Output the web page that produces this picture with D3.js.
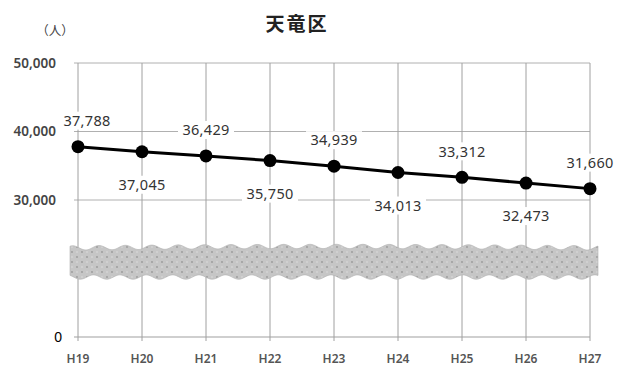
<!DOCTYPE html>
<html><head><meta charset="utf-8">
<script src="https://cdn.jsdelivr.net/npm/d3@7"></script>
<style>
html,body{margin:0;padding:0;background:#fff;}
svg{display:block;}
</style></head>
<body>
<svg id="c" width="617" height="367"></svg>
<script>
const categories = ["H19","H20","H21","H22","H23","H24","H25","H26","H27"];
const population = [37788,37045,36429,35750,34939,34013,33312,32473,31660];
const yTickValues = [0, 30000, 40000, 50000];
const yTickLabels = ["0", "30,000", "40,000", "50,000"];
const yGridValues = [20000, 30000, 40000, 50000];
const breakRange = [17500, 23000];
const title = "天竜区";
const unitLabel = "（人）";

const svg = d3.select("#c");
const x = d3.scalePoint().domain(categories).range([78, 590]);
// broken axis: 0–20,000 compressed
const y = d3.scaleLinear().domain([0, 20000, 50000]).range([337, 268.5, 63]);
const fmt = d3.format(",");

// pattern for break band
const defs = svg.append("defs");
const pat = defs.append("pattern").attr("id","tex").attr("patternUnits","userSpaceOnUse")
  .attr("width",10).attr("height",10);
pat.append("rect").attr("width",10).attr("height",10).attr("fill","#c6c6c6");
pat.append("circle").attr("cx",2).attr("cy",2).attr("r",0.9).attr("fill","#9a9a9a");
pat.append("circle").attr("cx",7).attr("cy",7).attr("r",0.9).attr("fill","#9a9a9a");
pat.append("circle").attr("cx",7).attr("cy",2).attr("r",0.7).attr("fill","#e2e2e2");
pat.append("circle").attr("cx",2).attr("cy",7).attr("r",0.7).attr("fill","#e2e2e2");

// horizontal gridlines
svg.append("g").selectAll("line").data(yGridValues).join("line")
  .attr("x1", 74).attr("x2", x.range()[1])
  .attr("y1", d => y(d)).attr("y2", d => y(d))
  .attr("stroke", "#b0b0b0").attr("stroke-width", 1);
// bottom axis line
svg.append("line").attr("x1", 74).attr("x2", x.range()[1])
  .attr("y1", y(0)).attr("y2", y(0)).attr("stroke", "#a0a0a0").attr("stroke-width", 1.2);
// vertical gridlines
svg.append("g").selectAll("line").data(categories).join("line")
  .attr("x1", d => x(d)).attr("x2", d => x(d))
  .attr("y1", y(50000)).attr("y2", y(0) + 4)
  .attr("stroke", "#a0a0a0").attr("stroke-width", 1);

// break band
const bx0 = 70, bx1 = 598;
const topY = y(breakRange[1]), botY = y(breakRange[0]);
const xs = d3.range(bx0, bx1 + 1, 2);
const topPts = xs.map(v => [v, topY + 2.2 * Math.sin(v / 4.2) - 1.5 * Math.sin((v - bx0) / (bx1 - bx0) * Math.PI)]);
const botPts = xs.slice().reverse().map(v => [v, botY + 2.2 * Math.sin(v / 4.2 + 1.3)]);
svg.append("path")
  .attr("d", d3.line()(topPts.concat(botPts)) + "Z")
  .attr("fill", "url(#tex)").attr("stroke", "#b0b0b0").attr("stroke-width", 0.6);

// y tick labels
svg.append("g").selectAll("text").data(yTickValues).join("text")
  .attr("x", d => d === 0 ? 62 : 56)
  .attr("y", d => y(d))
  .attr("dy", "0.35em")
  .attr("text-anchor", "end")
  .attr("font-family", d => d === 0 ? "Liberation Sans, Arial, sans-serif" : "Noto Sans, sans-serif")
  .attr("font-size", d => d === 0 ? 14 : 13.5)
  .attr("font-weight", d => d === 0 ? 400 : 600)
  .attr("fill", d => d === 0 ? "#000" : "#444")
  .text((d, i) => yTickLabels[i]);

// x labels
svg.append("g").selectAll("text").data(categories).join("text")
  .attr("x", d => x(d)).attr("y", 363)
  .attr("text-anchor", "middle")
  .attr("font-family", "Noto Sans, sans-serif").attr("font-size", 12).attr("font-weight", 600)
  .attr("fill", "#555").text(d => d);

// line
const data = categories.map((c, i) => ({c, v: population[i], i}));
svg.append("path").datum(data)
  .attr("d", d3.line().x(d => x(d.c)).y(d => y(d.v)))
  .attr("fill", "none").attr("stroke", "#000").attr("stroke-width", 3);
svg.append("g").selectAll("circle").data(data).join("circle")
  .attr("cx", d => x(d.c)).attr("cy", d => y(d.v)).attr("r", 6.5).attr("fill", "#000");

// data labels
const lg = svg.append("g").selectAll("g").data(data).join("g")
  .attr("transform", d => {
    const dx = d.i === 0 ? 9 : 0;
    const dy = d.i % 2 === 0 ? -26 : 33;
    return `translate(${x(d.c) + dx},${y(d.v) + dy})`;
  });
lg.append("rect").attr("x", -28).attr("y", -9).attr("width", 56).attr("height", 18).attr("fill", "#fff");
lg.append("text").attr("text-anchor", "middle").attr("dy", "0.36em")
  .attr("font-family", "Noto Sans, sans-serif").attr("font-size", 14.5)
  .attr("letter-spacing", 0.3)
  .attr("fill", "#333").text(d => fmt(d.v));

// title and unit
svg.append("text").attr("x", 297).attr("y", 31).attr("text-anchor", "middle")
  .attr("font-family", "Noto Sans CJK JP, sans-serif").attr("font-size", 19).attr("font-weight", 700)
  .attr("letter-spacing", 2).attr("fill", "#222").text(title);
svg.append("text").attr("x", 55).attr("y", 35).attr("text-anchor", "middle")
  .attr("font-family", "Noto Sans CJK JP, sans-serif").attr("font-size", 12.5)
  .attr("fill", "#444").text(unitLabel);
</script>
</body></html>
